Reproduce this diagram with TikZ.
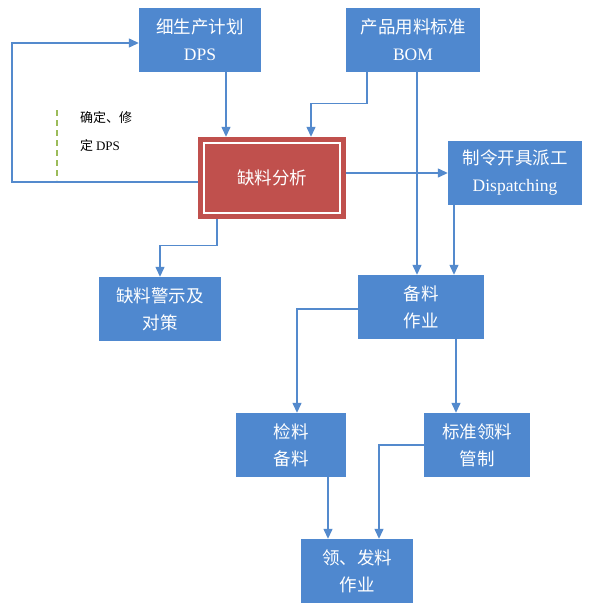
\documentclass[tikz,border=0pt]{standalone}
\usepackage{fontspec}
\setmainfont{Liberation Serif}
\newfontfamily\cjk{Noto Sans CJK SC}
\usetikzlibrary{arrows.meta}
\definecolor{boxblue}{RGB}{79,136,207}
\definecolor{anared}{RGB}{192,80,77}
\definecolor{lineblue}{RGB}{84,138,205}
\definecolor{notegreen}{RGB}{155,187,89}

\begin{document}
\begin{tikzpicture}[x=1pt,y=-1pt,
  box/.style={fill=boxblue,text=white,align=center,inner sep=0pt,
    minimum height=64pt,font=\cjk\fontsize{17.5}{27}\selectfont},
  arr/.style={draw=lineblue,line width=1.3pt,-{Triangle[length=10pt,width=9pt]}}]
  \useasboundingbox (0,0) rectangle (590,613);
  \fill[white] (0,0) rectangle (590,613);
  % boxes
  \node[box,minimum width=122pt] (dps) at (200,40){细生产计划\\{\rmfamily DPS}};
  \node[box,minimum width=134pt] (bom) at (413,40){产品用料标准\\{\rmfamily BOM}};
  \node[box,fill=anared,minimum width=148pt,minimum height=82pt] (ana) at (272,178){缺料分析};
  \draw[white,line width=1.5pt] ([shift={(6pt,6pt)}]ana.south west) rectangle ([shift={(-6pt,-6pt)}]ana.north east);
  \node[box,minimum width=134pt] (disp) at (515,173){制令开具派工\\{\rmfamily Dispatching}};
  \node[box,minimum width=122pt] (warn) at (160,309){缺料警示及\\对策};
  \node[box,minimum width=126pt] (bl) at (421,307){备料\\作业};
  \node[box,minimum width=110pt] (jl) at (291,445){检料\\备料};
  \node[box,minimum width=106pt] (bz) at (477,445){标准领料\\管制};
  \node[box,minimum width=112pt] (lf) at (357,571){领、发料\\作业};
  % note
  \coordinate (loop) at (12,0);
  \draw[notegreen,line width=1.2pt,dash pattern=on 6pt off 4pt] (57,110)--(57,180);
  \node[anchor=north west,align=left,inner sep=0pt,font=\cjk\fontsize{13}{28}\selectfont] (note) at (80,111){确定、修\\定 {\rmfamily DPS}};
  % connectors
  \draw[arr] ([xshift=26pt]dps.south) -- ([xshift=26pt]dps.south |- ana.north);
  \draw[arr] ([xshift=-46pt]bom.south) -- ++(0,31) -| ([xshift=39pt]ana.north);
  \draw[arr] ([xshift=4pt]bom.south) -- ([xshift=4pt]bom.south |- bl.north);
  \draw[arr] (ana.east |- disp.west) -- (disp.west);
  \draw[arr] ([xshift=-61pt]disp.south) -- ([xshift=-61pt]disp.south |- bl.north);
  \draw[arr] ([yshift=-4pt]ana.west) -- ([yshift=-4pt]ana.west -| loop) |- ([yshift=-3pt]dps.west);
  \draw[arr] ([xshift=-55pt]ana.south) -- ++(0,26) -| (warn.north);
  \draw[arr] ([yshift=-2pt]bl.west) -| ([xshift=6pt]jl.north);
  \draw[arr] ([xshift=35pt]bl.south) -- ([xshift=35pt]bl.south |- bz.north);
  \draw[arr] ([xshift=37pt]jl.south) -- ([xshift=37pt]jl.south |- lf.north);
  \draw[arr] (bz.west) -| ([xshift=22pt]lf.north);
\end{tikzpicture}
\end{document}
